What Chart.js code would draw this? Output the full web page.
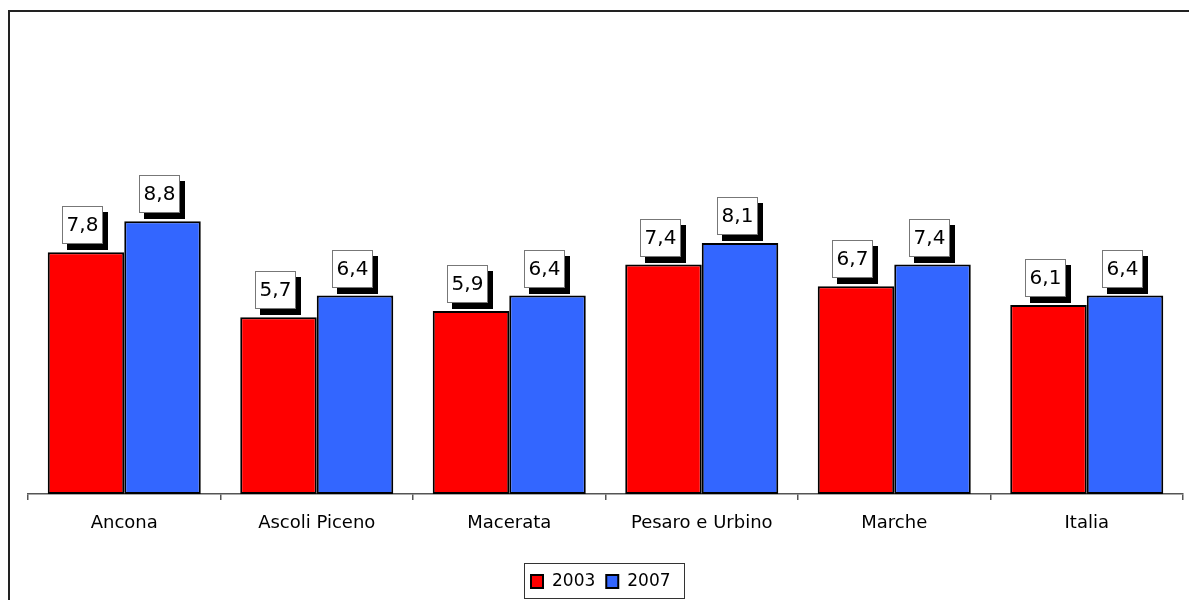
<!DOCTYPE html>
<html>
<head>
<meta charset="utf-8">
<script src="https://cdn.jsdelivr.net/npm/chart.js@4/dist/chart.umd.min.js"></script>
<style>
  html, body { margin: 0; padding: 0; background: #fff; }
  #wrap { width: 1189px; height: 600px; position: relative; }
</style>
</head>
<body>
<div id="wrap"><canvas id="c" width="1189" height="600"></canvas></div>
<script>
const categories = ['Ancona', 'Ascoli Piceno', 'Macerata', 'Pesaro e Urbino', 'Marche', 'Italia'];
const values2003 = [7.8, 5.7, 5.9, 7.4, 6.7, 6.1];
const values2007 = [8.8, 6.4, 6.4, 8.1, 7.4, 6.4];
const seriesNames = ['2003', '2007'];
const seriesColors = ['#FF0000', '#3366FF'];

const FONT = '"DejaVu Sans", Verdana, sans-serif';

// Frame lines along the top and left edges of the canvas
const framePlugin = {
  id: 'frame',
  afterDraw(chart) {
    const ctx = chart.ctx;
    ctx.save();
    ctx.fillStyle = '#222';
    ctx.fillRect(8, 10, chart.width - 8, 2);
    ctx.fillRect(8, 10, 2, chart.height - 10);
    ctx.restore();
  }
};

// Value boxes with a drop shadow above each bar
const valueBoxPlugin = {
  id: 'valueBoxes',
  afterDatasetsDraw(chart) {
    const ctx = chart.ctx;
    ctx.save();
    ctx.font = '20px ' + FONT;
    ctx.textAlign = 'center';
    ctx.textBaseline = 'middle';
    chart.data.datasets.forEach((ds, di) => {
      const meta = chart.getDatasetMeta(di);
      meta.data.forEach((bar, i) => {
        const txt = ds.data[i].toFixed(1).replace('.', ',');
        const w = 41, h = 38, sh = 5;
        const cx = bar.x - 3;
        const bottom = bar.y - 8;
        const left = Math.round(cx - w / 2), top = Math.round(bottom - h);
        ctx.fillStyle = '#000';
        ctx.fillRect(left + sh, top + sh + 1, w, h);
        ctx.fillStyle = '#fff';
        ctx.fillRect(left, top, w, h);
        ctx.strokeStyle = '#777';
        ctx.lineWidth = 1;
        ctx.strokeRect(left + 0.5, top + 0.5, w - 1, h - 1);
        ctx.fillStyle = '#000';
        ctx.fillText(txt, left + w / 2, top + h / 2 + 1);
      });
    });
    ctx.restore();
  }
};

// Boxed legend under the axis
const boxedLegendPlugin = {
  id: 'boxedLegend',
  afterDraw(chart) {
    const ctx = chart.ctx;
    ctx.save();
    const bx = 524, by = 563, bw = 161, bh = 36;
    ctx.fillStyle = '#fff';
    ctx.fillRect(bx, by, bw, bh);
    ctx.strokeStyle = '#333';
    ctx.lineWidth = 1;
    ctx.strokeRect(bx + 0.5, by + 0.5, bw - 1, bh - 1);
    ctx.font = '17px ' + FONT;
    ctx.textBaseline = 'middle';
    ctx.textAlign = 'left';
    let x = 531;
    const cy = by + bh / 2 + 1;
    chart.data.datasets.forEach((ds) => {
      ctx.fillStyle = ds.backgroundColor;
      ctx.fillRect(x, cy - 7, 12, 13);
      ctx.strokeStyle = '#000';
      ctx.lineWidth = 2;
      ctx.strokeRect(x, cy - 7, 12, 13);
      ctx.fillStyle = '#000';
      ctx.fillText(ds.label, x + 21, cy);
      x += 21 + ctx.measureText(ds.label).width + 11;
    });
    ctx.restore();
  }
};

new Chart(document.getElementById('c'), {
  type: 'bar',
  data: {
    labels: categories,
    datasets: [
      { label: seriesNames[0], data: values2003, backgroundColor: seriesColors[0],
        borderColor: '#000', borderWidth: 2, borderSkipped: false },
      { label: seriesNames[1], data: values2007, backgroundColor: seriesColors[1],
        borderColor: '#000', borderWidth: 2, borderSkipped: false }
    ]
  },
  options: {
    responsive: false,
    animation: false,
    devicePixelRatio: 1,
    layout: { padding: { left: 28, right: 6, top: 29, bottom: 0 } },
    datasets: { bar: { categoryPercentage: 0.795, barPercentage: 1.0 } },
    plugins: {
      legend: { display: false },
      tooltip: { enabled: false },
      title: { display: false }
    },
    scales: {
      x: {
        offset: true,
        grid: { offset: true, drawOnChartArea: false, drawTicks: true, tickLength: 6, color: '#555', lineWidth: 1.5 },
        border: { display: true, color: '#555', width: 1.5 },
        ticks: { color: '#000', font: { family: FONT, size: 18 }, padding: 13, maxRotation: 0 },
        afterFit(scale) { scale.height = 106; }
      },
      y: {
        display: false,
        min: 0,
        max: 15
      }
    }
  },
  plugins: [framePlugin, valueBoxPlugin, boxedLegendPlugin]
});
</script>
</body>
</html>
